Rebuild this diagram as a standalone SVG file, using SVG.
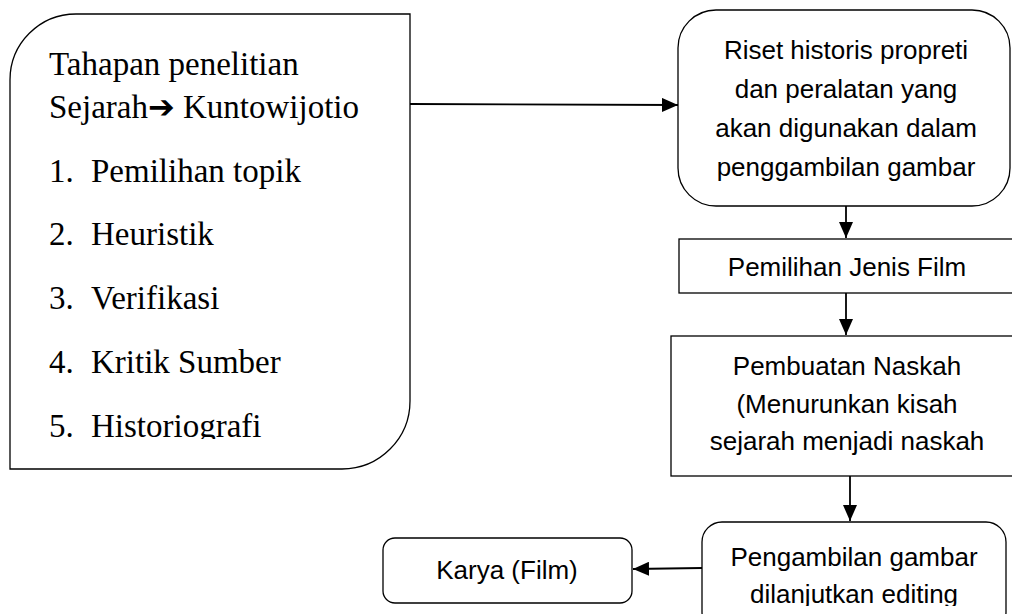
<svg xmlns="http://www.w3.org/2000/svg" width="1012" height="614" viewBox="0 0 1012 614">
<style>
.box{fill:#fff;stroke:#000;stroke-width:1.3}
.ser{font-family:"Liberation Serif",serif;font-size:33px;fill:#000}
.sans{font-family:"Liberation Sans",Arial,sans-serif;font-size:26px;fill:#000;text-anchor:middle}
.edge{stroke:#000;stroke-width:1.8;fill:none;marker-end:url(#ah)}
</style>
<defs>
<marker id="ah" markerWidth="16" markerHeight="14" refX="16" refY="7" orient="auto" markerUnits="userSpaceOnUse">
<path d="M0,0 L16,7 L0,14 Z" fill="#000"/>
</marker>
<clipPath id="clipL"><rect x="0" y="0" width="420" height="439"/></clipPath>
<clipPath id="clipP"><rect x="690" y="520" width="330" height="86"/></clipPath>
</defs>
<g id="node-tahapan">
<path class="box" d="M10,80 A66,66 0 0 1 76,14 L410,14 L410,401 A68,68 0 0 1 342,469 L10,469 Z"/>
<g clip-path="url(#clipL)">
<text class="ser" x="49" y="75">Tahapan penelitian</text>
<text class="ser" x="49" y="118">Sejarah<tspan font-family="DejaVu Sans" font-weight="bold" font-size="32">➔</tspan> Kuntowijotio</text>
<text class="ser" x="49" y="182">1.</text><text class="ser" x="91" y="182">Pemilihan topik</text>
<text class="ser" x="49" y="245">2.</text><text class="ser" x="91" y="245">Heuristik</text>
<text class="ser" x="49" y="309">3.</text><text class="ser" x="91" y="309">Verifikasi</text>
<text class="ser" x="49" y="373">4.</text><text class="ser" x="91" y="373">Kritik Sumber</text>
<text class="ser" x="49" y="437">5.</text><text class="ser" x="91" y="437">Historiografi</text>
</g>
</g>
<g id="node-riset">
<rect class="box" x="678" y="10" width="332" height="196" rx="38"/>
<text class="sans" x="846" y="59">Riset historis propreti</text>
<text class="sans" x="846" y="98">dan peralatan yang</text>
<text class="sans" x="846" y="137">akan digunakan dalam</text>
<text class="sans" x="846" y="176">penggambilan gambar</text>
</g>
<g id="node-jenis">
<rect class="box" x="679" y="239" width="340" height="54"/>
<text class="sans" x="847" y="276">Pemilihan Jenis Film</text>
</g>
<g id="node-naskah">
<rect class="box" x="671" y="336" width="348" height="140"/>
<text class="sans" x="847" y="375">Pembuatan Naskah</text>
<text class="sans" x="847" y="413">(Menurunkan kisah</text>
<text class="sans" x="847" y="450">sejarah menjadi naskah</text>
</g>
<g id="node-pengambilan">
<rect class="box" x="702" y="522" width="304" height="110" rx="20"/>
<g clip-path="url(#clipP)">
<text class="sans" x="854" y="566">Pengambilan gambar</text>
<text class="sans" x="854" y="603">dilanjutkan editing</text>
</g>
</g>
<g id="node-karya">
<rect class="box" x="383" y="538" width="249" height="65" rx="12"/>
<text class="sans" x="507" y="579">Karya (Film)</text>
</g>
<g id="connectors">
<line class="edge" x1="410" y1="104" x2="678" y2="105"/>
<line class="edge" x1="846" y1="206" x2="846" y2="238"/>
<line class="edge" x1="846" y1="293" x2="846" y2="335"/>
<line class="edge" x1="850" y1="476" x2="850" y2="521"/>
<line class="edge" x1="702" y1="568" x2="633" y2="569"/>
</g>
</svg>
